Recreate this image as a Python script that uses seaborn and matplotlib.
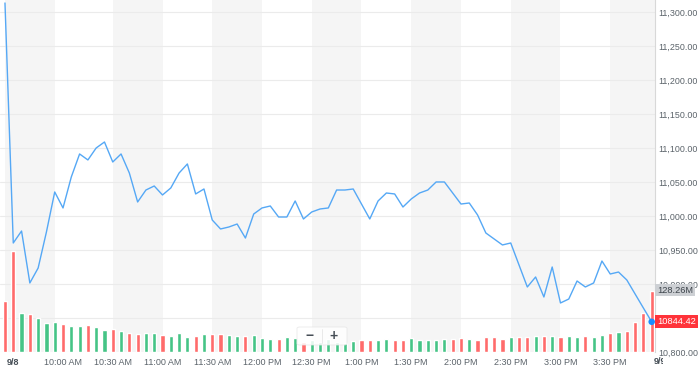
import matplotlib
matplotlib.use("Agg")
import matplotlib.pyplot as plt
import seaborn as sns
import pandas as pd
from matplotlib.transforms import Bbox, TransformedBbox, blended_transform_factory
from matplotlib.patches import FancyBboxPatch
from matplotlib.lines import Line2D

# minutes after 9:25 (5-minute intervals)
minutes = list(range(0, 395, 5))

prices = [
    11313.2, 10960.3, 10977.9, 10901.5, 10923.5, 10976.5, 11035.3, 11011.8, 11057.4, 11091.2,
    11082.4, 11100.0, 11108.8, 11079.4, 11091.2, 11063.2, 11020.6, 11038.2, 11044.1, 11030.9,
    11041.2, 11063.2, 11076.5, 11032.4, 11039.7, 10994.1, 10980.9, 10983.8, 10988.2, 10967.6,
    11002.9, 11011.8, 11014.7, 10998.5, 10998.5, 11022.1, 10995.6, 11005.9, 11010.3, 11011.8,
    11038.2, 11038.2, 11039.7, 11017.6, 10995.6, 11022.1, 11033.8, 11032.4, 11013.2, 11025.0,
    11033.8, 11038.2, 11050.0, 11050.0, 11033.8, 11017.6, 11019.1, 11001.5, 10975.0, 10966.2,
    10957.4, 10960.3, 10927.9, 10895.6, 10910.3, 10880.9, 10925.0, 10872.1, 10877.9, 10904.4,
    10895.6, 10901.5, 10933.8, 10914.7, 10917.6, 10905.9, 10885.3, 10864.7, 10844.42,
]

# volume in millions
volumes = [
    107.2, 211.7, 81.4, 79.3, 71.5, 61.0, 62.4, 59.5, 54.0, 55.3,
    56.8, 51.9, 46.9, 49.0, 43.5, 40.6, 37.8, 40.6, 40.6, 35.1,
    34.3, 39.3, 31.5, 34.3, 37.2, 37.2, 37.2, 36.5, 33.6, 33.6,
    35.1, 30.1, 28.0, 28.0, 32.2, 30.1, 21.0, 24.6, 21.0, 27.3,
    21.0, 19.6, 23.1, 25.9, 24.6, 25.9, 26.7, 24.6, 25.9, 30.1,
    25.9, 24.6, 25.9, 28.0, 28.0, 28.8, 28.0, 25.9, 31.5, 30.9,
    28.0, 30.9, 30.9, 32.2, 33.6, 33.6, 34.3, 30.9, 34.3, 32.2,
    33.6, 32.2, 36.4, 40.0, 41.4, 44.8, 63.1, 82.6, 128.26,
]

direction = list(
    "RRGRGGGRGG"
    "RGGRGRRGGR"
    "GGGRGRRGGR"
    "GGGRGGRGGG"
    "GGGRRGGRRG"
    "GGGGRRGRRR"
    "RGRRGRGRGG"
    "RGGRGRRRR"
)

tick_minutes = [5, 35, 65, 95, 125, 155, 185, 215, 245, 275, 305, 335, 365]
tick_labels = ["9/8", "10:00 AM", "10:30 AM", "11:00 AM", "11:30 AM", "12:00 PM",
               "12:30 PM", "1:00 PM", "1:30 PM", "2:00 PM", "2:30 PM", "3:00 PM", "3:30 PM"]
next_day_minute = 395
next_day_label = "9/9"
band_starts = [0, 65, 125, 185, 245, 305, 365]
price_ticks = [10800, 10850, 10900, 10950, 11000, 11050, 11100, 11150, 11200, 11250, 11300]
last_volume_label = "128.26M"
last_price_label = "10844.42"

sns.set_theme(style="white")
plt.rcParams["font.family"] = ["Liberation Sans", "DejaVu Sans"]

RED = "#ff6b6b"
GREEN = "#45c486"
LINE = "#55a8f5"
TXT = "#5b636a"

fig = plt.figure(figsize=(7, 3.71), dpi=100)
rect = [0, 19 / 371, 655 / 700, 352 / 371]
ax = fig.add_axes(rect)
XLIM = (-3, 392)
YLIM = (10800, 11317.6)
ax.set_xlim(*XLIM)
ax.set_ylim(*YLIM)
ax.set_facecolor("white")
for s in band_starts:
    ax.axvspan(s, s + 30, color="#f5f5f5", lw=0, zorder=0)

# volume bars
ax_v = ax.twinx()
df = pd.DataFrame({"t": minutes, "vol": volumes, "dir": direction})
sns.barplot(data=df, x="t", y="vol", hue="dir", palette={"R": RED, "G": GREEN},
            native_scale=True, dodge=False, width=0.5, saturation=1,
            legend=False, ax=ax_v, zorder=2)
ax_v.set_ylim(0, 740)
ax_v.set_yticks([])
ax_v.set_ylabel("")
ax_v.set_xlabel("")
for sp in ax_v.spines.values():
    sp.set_visible(False)

# price line
ax_l = ax.twinx()
sns.lineplot(x=minutes, y=prices, ax=ax_l, color=LINE, lw=1.0)
sns.scatterplot(x=minutes[-1:], y=prices[-1:], ax=ax_l, color="#1a8cff", s=22,
                edgecolor="none", zorder=5)
ax_l.set_ylim(*YLIM)
ax_l.set_yticks([])
ax_l.set_ylabel("")
for sp in ax_l.spines.values():
    sp.set_visible(False)

# main axis styling (after twins, which reset tick sides)
ax.set_yticks(price_ticks)
ax.set_yticklabels([f"{v:,.2f}" for v in price_ticks])
ax.yaxis.tick_right()
ax.yaxis.set_label_position("right")
ax.grid(axis="y", color="#ebebeb", lw=0.8)
ax.grid(axis="x", visible=False)
for side in ["top", "left", "bottom"]:
    ax.spines[side].set_visible(False)
ax.spines["right"].set_visible(True)
ax.spines["right"].set_color("#d8d8d8")
ax.spines["right"].set_linewidth(0.8)
ax.tick_params(axis="y", which="both", left=False, labelleft=False, right=False,
               labelright=True, length=0, pad=2.5, labelsize=6.4, colors=TXT)

ax.set_xlim(*XLIM)
ax.set_xticks(tick_minutes)
ax.set_xticklabels(tick_labels)
ax.set_xlabel("")
ax.tick_params(axis="x", length=0, pad=4, labelsize=6.5, colors=TXT)
first = ax.get_xticklabels()[0]
first.set_fontweight("bold")
first.set_color("#464e56")

# clipped next-day label
tr = blended_transform_factory(ax.transData, ax.transAxes)
t99 = ax.text(next_day_minute, -0.014, next_day_label, transform=tr, ha="center", va="top",
              fontsize=6.5, fontweight="bold", color="#464e56", clip_on=True)
t99.set_clip_box(TransformedBbox(Bbox.from_extents(0, 0, 663 / 700, 1), fig.transFigure))

# value labels at right
trv = blended_transform_factory(ax_v.transAxes, ax_v.transData)
ax_v.text(1.003, volumes[-1] + 2, last_volume_label, transform=trv, ha="left", va="center",
          fontsize=6.7, color="#3d444b", clip_on=False,
          bbox=dict(boxstyle="square,pad=0.2", fc="#cdd0d4", ec="none"))
trp = blended_transform_factory(ax_l.transAxes, ax_l.transData)
ax_l.text(1.003, prices[-1], last_price_label, transform=trp, ha="left", va="center",
          fontsize=6.7, color="white", clip_on=False,
          bbox=dict(boxstyle="square,pad=0.2", fc="#ff333a", ec="none"))

# zoom control overlay
box = FancyBboxPatch((297 / 700, 1 - 345 / 371), 50 / 700, 18 / 371,
                     boxstyle="round,pad=0,rounding_size=0.004", transform=fig.transFigure,
                     fc="white", ec="#e6e6e6", lw=0.6, alpha=0.85, zorder=10)
fig.patches.append(box)
fig.lines.append(Line2D([322 / 700, 322 / 700], [1 - 343 / 371, 1 - 329 / 371],
                        transform=fig.transFigure, color="#e6e6e6", lw=0.6, zorder=11))
fig.text(310 / 700, 1 - 336 / 371, "−", ha="center", va="center", fontsize=10,
         color="#464e56", fontweight="bold", zorder=12)
fig.text(334 / 700, 1 - 336 / 371, "+", ha="center", va="center", fontsize=10,
         color="#464e56", fontweight="bold", zorder=12)

fig.savefig("out.png", dpi=100)
